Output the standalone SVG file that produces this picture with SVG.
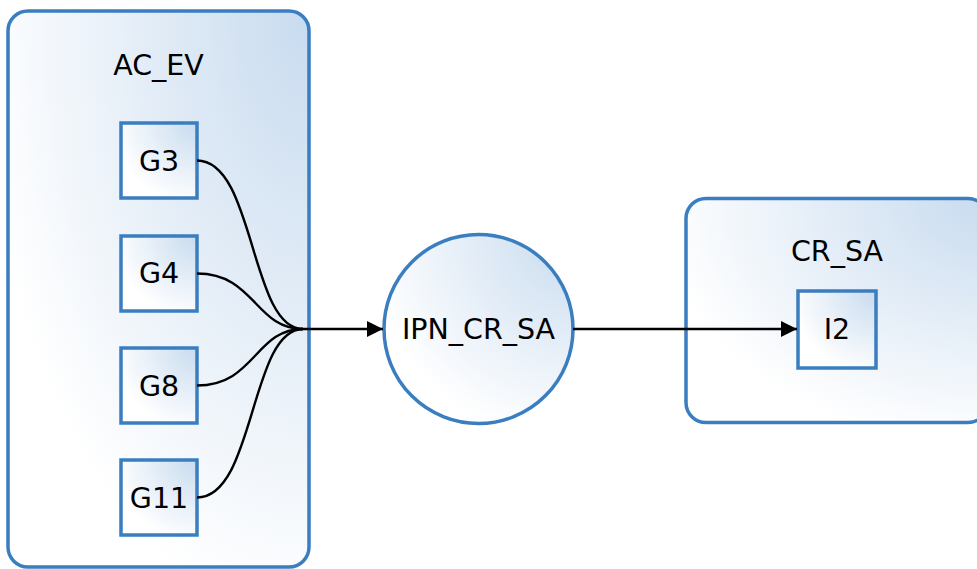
<svg xmlns="http://www.w3.org/2000/svg" width="977" height="569" viewBox="0 0 977 569">
<defs>
<radialGradient id="g" cx="1" cy="0" r="1.1" fx="1" fy="0">
<stop offset="0" stop-color="#c8dbef"/>
<stop offset="1" stop-color="#ffffff"/>
</radialGradient>
<marker id="arr" viewBox="0 0 16 16" refX="16" refY="8" markerWidth="16" markerHeight="16" markerUnits="userSpaceOnUse" orient="auto">
<path d="M0,0 L16,8 L0,16 Z" fill="#000"/>
</marker>
<style>
.shape{fill:url(#g);stroke:#3a7ec0;stroke-width:3.5}
.box{fill:url(#g);stroke:#3a7ec0;stroke-width:3.5}
text{font-family:"DejaVu Sans","Liberation Sans",sans-serif;font-size:28.5px;fill:#000;text-anchor:middle}
.edge{fill:none;stroke:#000;stroke-width:2.4}
</style>
</defs>
<rect width="977" height="569" fill="#fff"/>
<g id="AC_EV">
<rect class="shape" x="8" y="11" width="301" height="556" rx="20"/>
<text x="158.5" y="75">AC_EV</text>
</g>
<g id="CR_SA">
<rect class="shape" x="686" y="198.5" width="302" height="224" rx="20"/>
<text x="837" y="261">CR_SA</text>
</g>
<g id="G3">
<rect class="box" x="121" y="123" width="76" height="75"/>
<text x="159" y="170.5">G3</text>
</g>
<g id="G4">
<rect class="box" x="121" y="236" width="76" height="75"/>
<text x="159" y="283">G4</text>
</g>
<g id="G8">
<rect class="box" x="121" y="348" width="76" height="75"/>
<text x="159" y="395.5">G8</text>
</g>
<g id="G11">
<rect class="box" x="121" y="460" width="76" height="75"/>
<text x="159" y="507.5">G11</text>
</g>
<g id="IPN_CR_SA">
<circle class="shape" cx="478.5" cy="329" r="94.5"/>
<text x="478.5" y="338.5">IPN_CR_SA</text>
</g>
<g id="I2">
<rect class="box" x="798" y="291" width="78" height="77"/>
<text x="837" y="338.5">I2</text>
</g>
<g id="connectors">
<path class="edge" d="M197,160.5 C255,160.5 250,329 303,329"/>
<path class="edge" d="M197,273.5 C255,273.5 255,329 303,329"/>
<path class="edge" d="M197,385.5 C255,385.5 255,329 303,329"/>
<path class="edge" d="M197,497.5 C255,497.5 250,329 303,329"/>
<path class="edge" d="M303,329 L383,329" marker-end="url(#arr)"/>
<path class="edge" d="M573,329 L797,329" marker-end="url(#arr)"/>
</g>
</svg>
